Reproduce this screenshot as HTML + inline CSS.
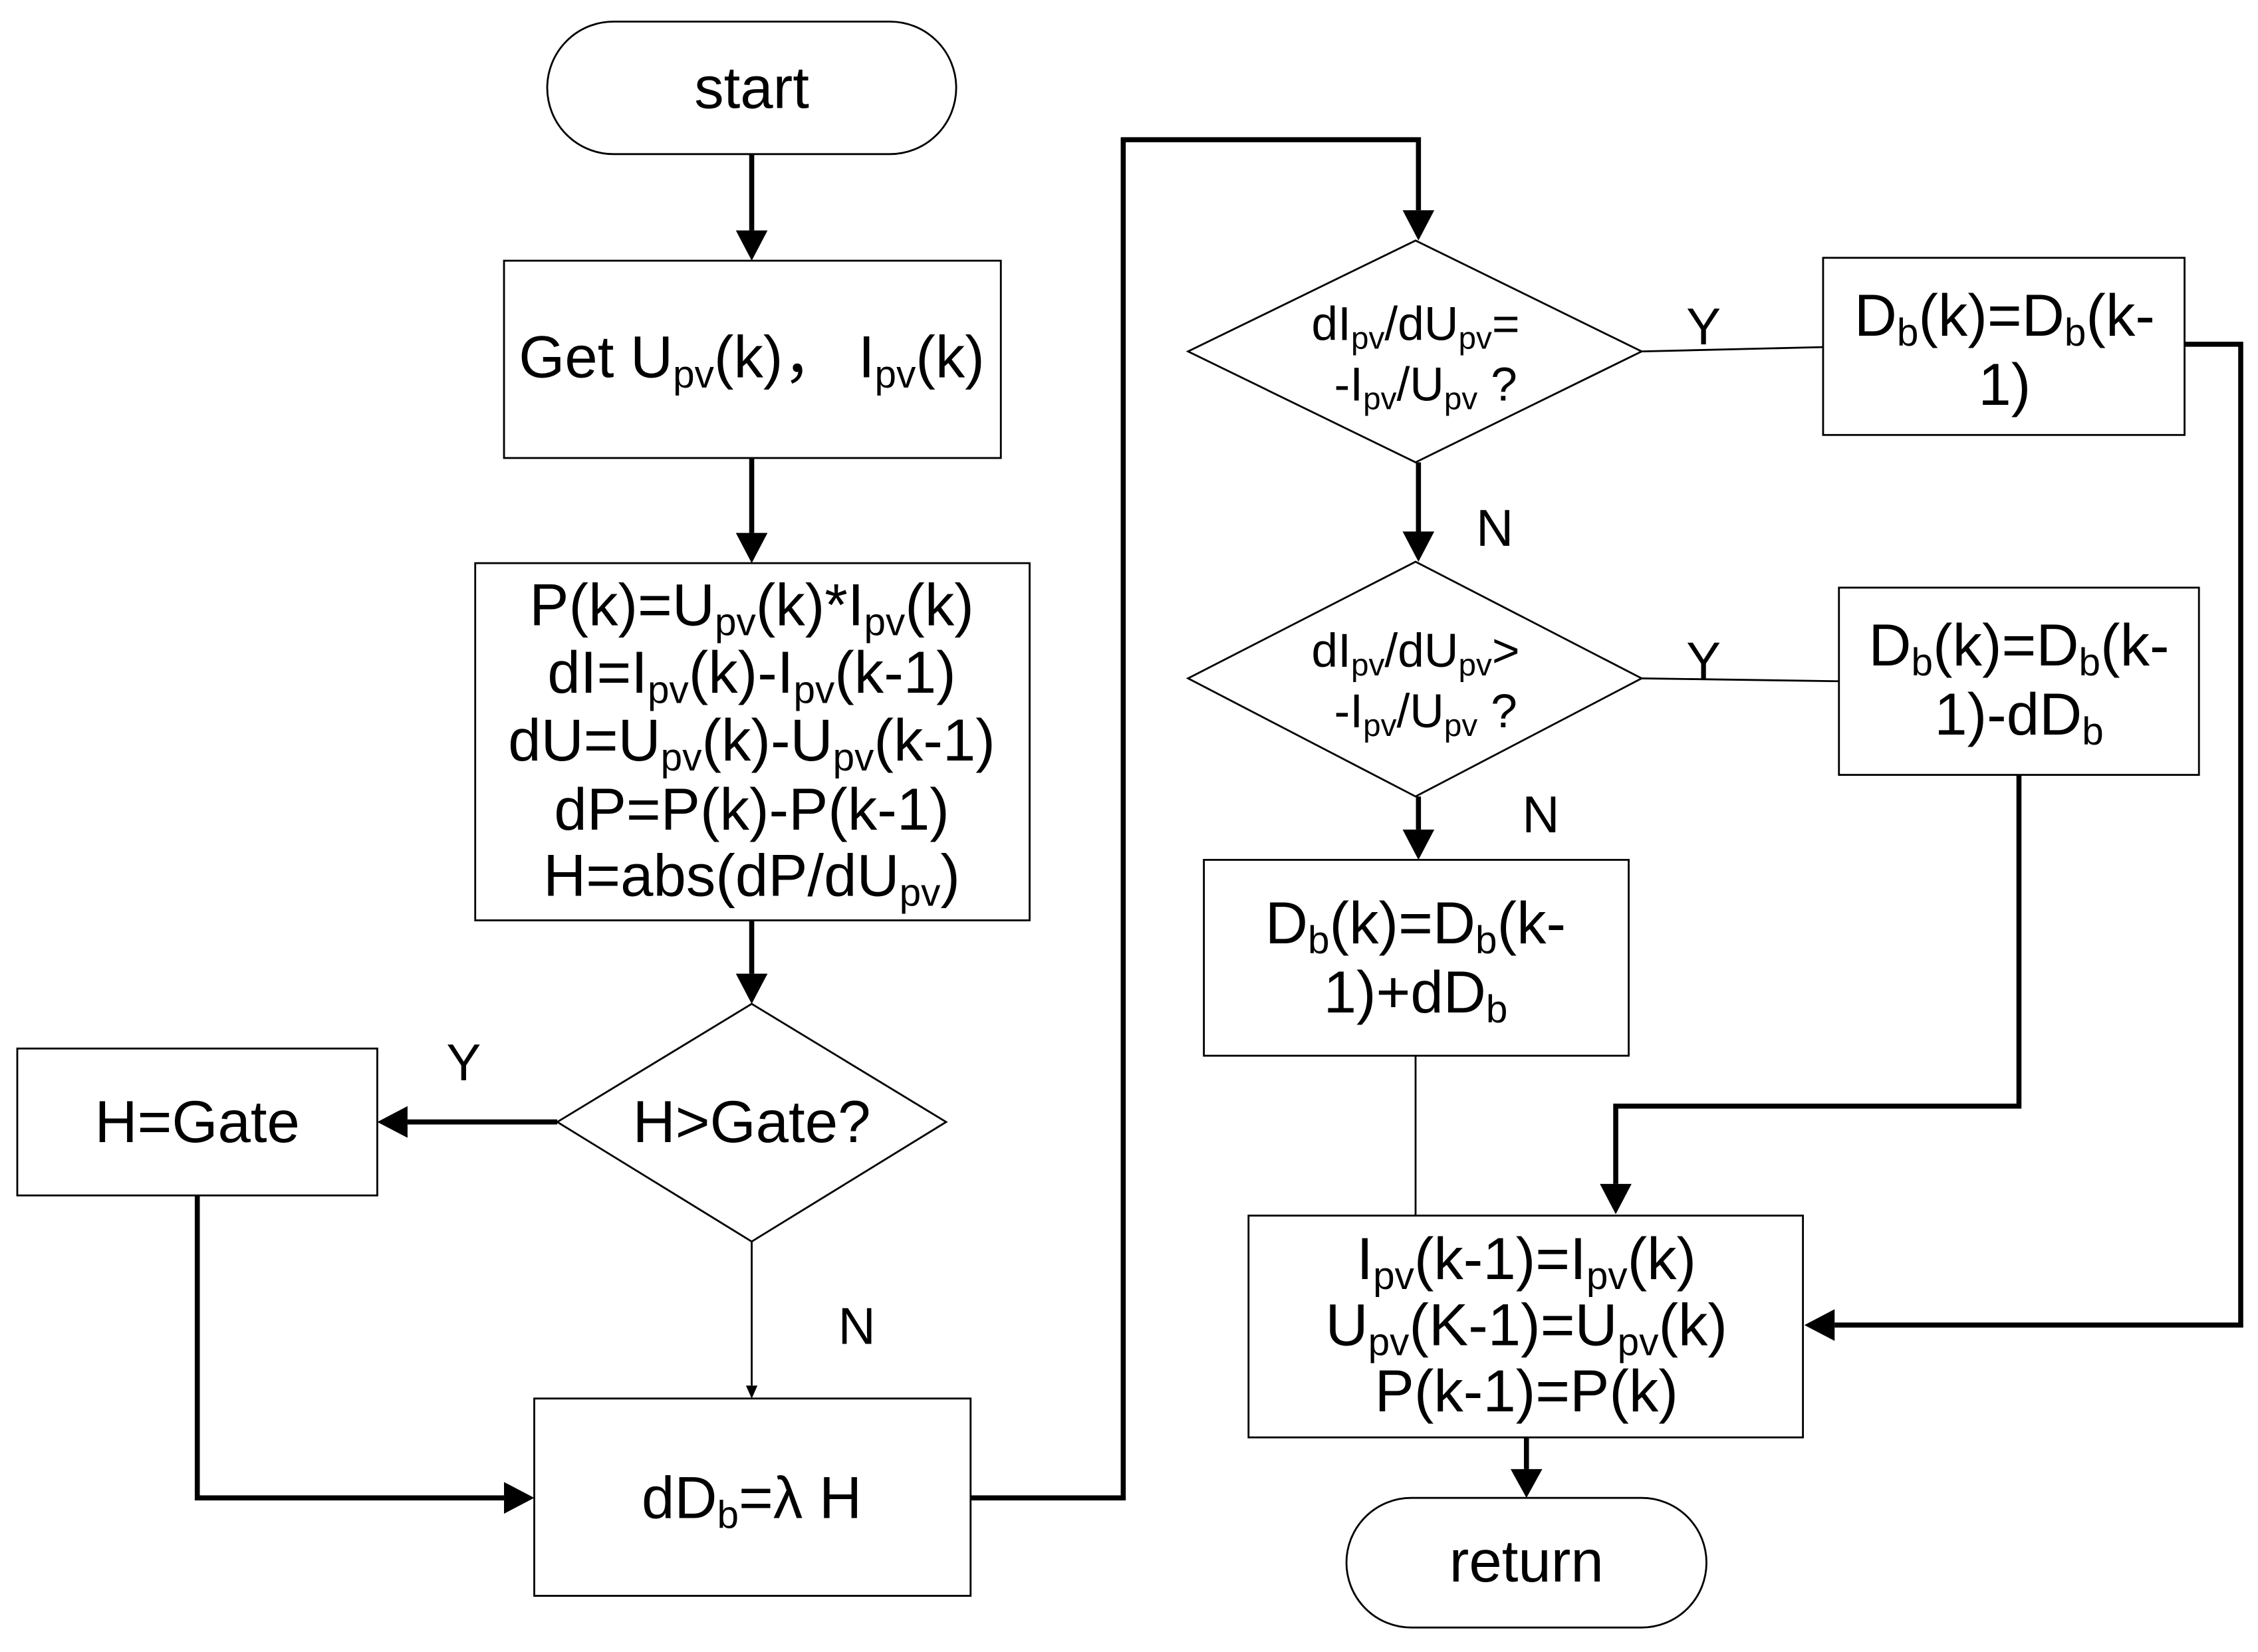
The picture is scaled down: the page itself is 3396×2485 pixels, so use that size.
<!DOCTYPE html>
<html><head><meta charset="utf-8"><style>
html,body{margin:0;padding:0;background:#fff;}
svg{display:block;}
text{font-family:"Liberation Sans","Noto Sans CJK SC",sans-serif;fill:#000;}
</style></head><body>
<svg width="3396" height="2485" viewBox="0 0 1568 1147" preserveAspectRatio="none" xmlns="http://www.w3.org/2000/svg">
<g fill="none" stroke="#000" stroke-width="1.3">
<rect x="380" y="15" width="284" height="92" rx="46"/>
<rect x="350" y="181" width="345" height="137"/>
<rect x="330" y="391" width="385" height="248"/>
<polygon points="387,779 522,697 657,779 522,862"/>
<rect x="12" y="728" width="250" height="102"/>
<rect x="371" y="971" width="303" height="137"/>
<polygon points="825,244 983,167 1140,244 983,321"/>
<rect x="1266" y="179" width="251" height="123"/>
<polygon points="825,471 983,390 1140,471 983,553"/>
<rect x="1277" y="408" width="250" height="130"/>
<rect x="836" y="597" width="295" height="136"/>
<rect x="867" y="844" width="385" height="154"/>
<rect x="935" y="1040" width="250" height="90" rx="45"/>
<line x1="1140" y1="244" x2="1266" y2="241"/>
<line x1="1140" y1="471" x2="1277" y2="473"/>
<line x1="983" y1="733" x2="983" y2="844"/>
<line x1="522" y1="862" x2="522" y2="962"/>
</g>
<path d="M518,962 L526,962 L522,971 z" fill="#000"/>
<g fill="none" stroke="#000" stroke-width="3.5">
<line x1="522" y1="107" x2="522" y2="160"/>
<line x1="522" y1="318" x2="522" y2="370"/>
<line x1="522" y1="639" x2="522" y2="676"/>
<line x1="387" y1="779" x2="283" y2="779"/>
<polyline points="137,830 137,1040 350,1040"/>
<polyline points="674,1040 780,1040 780,97 985,97 985,146"/>
<line x1="985" y1="321" x2="985" y2="369"/>
<line x1="985" y1="553" x2="985" y2="576"/>
<polyline points="1517,239 1556,239 1556,920 1274,920"/>
<polyline points="1402,538 1402,768 1122,768 1122,822"/>
<line x1="1060" y1="998" x2="1060" y2="1020"/>
</g>
<g fill="#000">
<path d="M511,160 L533,160 L522,181 z"/>
<path d="M511,370 L533,370 L522,391 z"/>
<path d="M511,676 L533,676 L522,697 z"/>
<path d="M283,768 L283,790 L262,779 z"/>
<path d="M350,1029 L350,1051 L371,1040 z"/>
<path d="M974,146 L996,146 L985,167 z"/>
<path d="M974,369 L996,369 L985,390 z"/>
<path d="M974,576 L996,576 L985,597 z"/>
<path d="M1274,909 L1274,931 L1253,920 z"/>
<path d="M1111,822 L1133,822 L1122,843 z"/>
<path d="M1049,1020 L1071,1020 L1060,1040 z"/>
</g>
<g font-size="41" text-anchor="middle">
<text x="522" y="75">start</text>
<text x="522" y="262">Get U<tspan font-size="27" dy="7">pv</tspan><tspan dy="-7">(k)，  I</tspan><tspan font-size="27" dy="7">pv</tspan><tspan dy="-7">(k)</tspan></text>
<text x="522" y="434">P(k)=U<tspan font-size="27" dy="7">pv</tspan><tspan dy="-7">(k)*I</tspan><tspan font-size="27" dy="7">pv</tspan><tspan dy="-7">(k)</tspan></text>
<text x="522" y="481">dI=I<tspan font-size="27" dy="7">pv</tspan><tspan dy="-7">(k)-I</tspan><tspan font-size="27" dy="7">pv</tspan><tspan dy="-7">(k-1)</tspan></text>
<text x="522" y="528">dU=U<tspan font-size="27" dy="7">pv</tspan><tspan dy="-7">(k)-U</tspan><tspan font-size="27" dy="7">pv</tspan><tspan dy="-7">(k-1)</tspan></text>
<text x="522" y="576">dP=P(k)-P(k-1)</text>
<text x="522" y="622">H=abs(dP/dU<tspan font-size="27" dy="7">pv</tspan><tspan dy="-7">)</tspan></text>
<text x="522" y="793">H&gt;Gate?</text>
<text x="137" y="793">H=Gate</text>
<text x="522" y="1054">dD<tspan font-size="27" dy="7">b</tspan><tspan dy="-7">=λ H</tspan></text>
<text x="1392" y="233">D<tspan font-size="27" dy="7">b</tspan><tspan dy="-7">(k)=D</tspan><tspan font-size="27" dy="7">b</tspan><tspan dy="-7">(k-</tspan></text>
<text x="1392" y="281">1)</text>
<text x="1402" y="462">D<tspan font-size="27" dy="7">b</tspan><tspan dy="-7">(k)=D</tspan><tspan font-size="27" dy="7">b</tspan><tspan dy="-7">(k-</tspan></text>
<text x="1402" y="510">1)-dD<tspan font-size="27" dy="7">b</tspan></text>
<text x="983" y="655">D<tspan font-size="27" dy="7">b</tspan><tspan dy="-7">(k)=D</tspan><tspan font-size="27" dy="7">b</tspan><tspan dy="-7">(k-</tspan></text>
<text x="983" y="703">1)+dD<tspan font-size="27" dy="7">b</tspan></text>
<text x="1060" y="888">I<tspan font-size="27" dy="7">pv</tspan><tspan dy="-7">(k-1)=I</tspan><tspan font-size="27" dy="7">pv</tspan><tspan dy="-7">(k)</tspan></text>
<text x="1060" y="934">U<tspan font-size="27" dy="7">pv</tspan><tspan dy="-7">(K-1)=U</tspan><tspan font-size="27" dy="7">pv</tspan><tspan dy="-7">(k)</tspan></text>
<text x="1060" y="980">P(k-1)=P(k)</text>
<text x="1060" y="1098">return</text>
</g>
<g font-size="36" text-anchor="middle">
<text x="322" y="750">Y</text>
<text x="595" y="933">N</text>
<text x="1183" y="239">Y</text>
<text x="1038" y="379">N</text>
<text x="1183" y="471">Y</text>
<text x="1070" y="578">N</text>
</g>
<g font-size="33" text-anchor="middle">
<text x="983" y="236">dI<tspan font-size="22" dy="6">pv</tspan><tspan dy="-6">/dU</tspan><tspan font-size="22" dy="6">pv</tspan><tspan dy="-6">=</tspan></text>
<text x="990" y="278">-I<tspan font-size="22" dy="6">pv</tspan><tspan dy="-6">/U</tspan><tspan font-size="22" dy="6">pv</tspan><tspan dy="-6">   ?</tspan></text>
<text x="983" y="463">dI<tspan font-size="22" dy="6">pv</tspan><tspan dy="-6">/dU</tspan><tspan font-size="22" dy="6">pv</tspan><tspan dy="-6">&gt;</tspan></text>
<text x="990" y="505">-I<tspan font-size="22" dy="6">pv</tspan><tspan dy="-6">/U</tspan><tspan font-size="22" dy="6">pv</tspan><tspan dy="-6">   ?</tspan></text>
</g>
</svg>
</body></html>
